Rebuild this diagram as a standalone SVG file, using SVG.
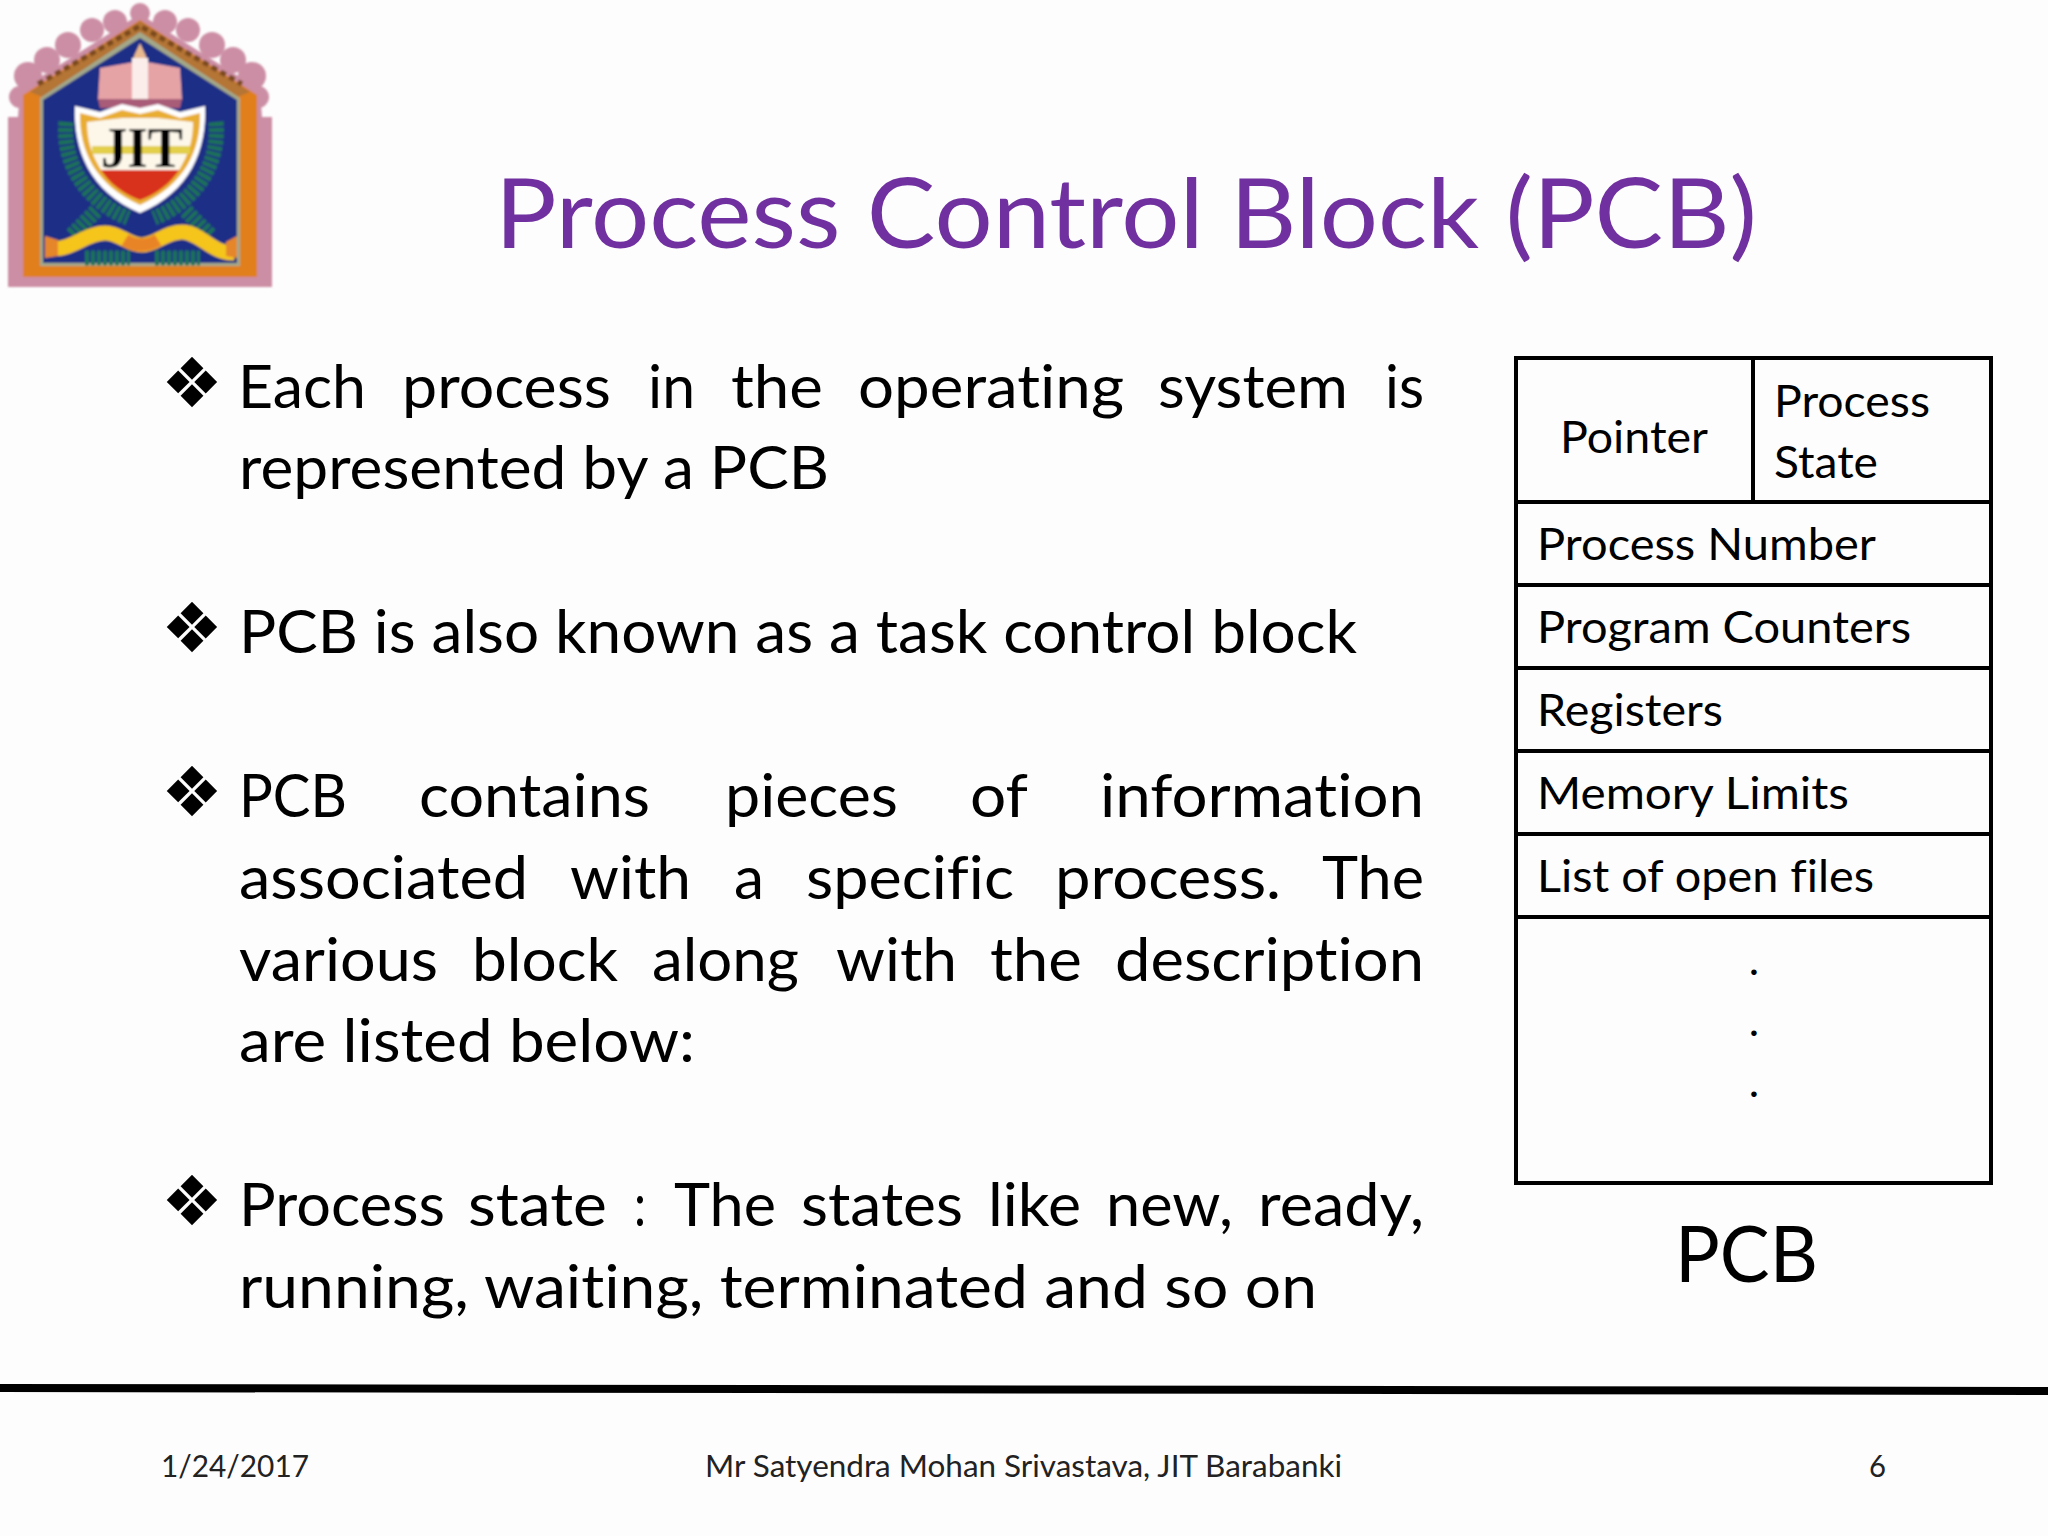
<svg xmlns="http://www.w3.org/2000/svg" width="2048" height="1536" viewBox="0 0 2048 1536">
<style>
text{font-family:"Lato","Carlito","Open Sans",sans-serif;fill:#000;font-variant-ligatures:none}
.b{font-size:60px}
.t{font-size:44px}
.f{font-size:31px;fill:#222}
.bu{font-family:"DejaVu Sans",sans-serif;font-size:69px;text-anchor:middle}
.cell{fill:none;stroke:#000;stroke-width:4}
</style>
<defs><filter id="soft" x="-5%" y="-5%" width="110%" height="110%"><feGaussianBlur stdDeviation="0.9"/></filter></defs>
<rect width="2048" height="1536" fill="#fdfdfd"/>
<g id="logo" filter="url(#soft)">
<g fill="#cc8ea4">
<circle cx="140" cy="13" r="10"/><circle cx="115" cy="22" r="12"/><circle cx="92" cy="30" r="12"/><circle cx="68" cy="45" r="13"/><circle cx="47" cy="60" r="13"/><circle cx="28" cy="76" r="14"/><circle cx="20" cy="97" r="11"/>
<circle cx="165" cy="22" r="12"/><circle cx="188" cy="30" r="12"/><circle cx="212" cy="45" r="13"/><circle cx="233" cy="60" r="13"/><circle cx="252" cy="76" r="14"/><circle cx="258" cy="97" r="11"/>
<path d="M8 287V117H18L20 90 140 14 260 90 262 117H272V287Z"/>
</g>
<path d="M23 277V95L140 20 257 95V277Z" fill="#e07f1f"/>
<path d="M30 92L140 21 250 92 237 97 140 36 43 97Z" fill="#b47436"/>
<path d="M38 84L140 26 242 84" fill="none" stroke="#7b4a1c" stroke-width="5" stroke-dasharray="6 4"/>
<path d="M40 266V98L140 32 240 98V266Z" fill="#a3a98a"/>
<path d="M43 263V100L140 38 237 100V263Z" fill="#1b2f86"/>
<path d="M140 43L146 56V66H134V56Z" fill="#e8b98f"/>
<path d="M100 68L134 62V100H98Z M180 68L147 62V100H182Z" fill="#e6a3a6"/>
<path d="M132 58H148V100H132Z" fill="#fbeeea"/>
<path d="M98 99H182L180 108H100Z" fill="#a85b78"/>
<g fill="none" stroke="#1d7257" stroke-width="15" stroke-dasharray="4 2">
<path d="M66 122C62 165 88 202 128 218"/>
<path d="M216 122C220 165 194 202 154 218"/>
<path d="M72 235L97 210"/>
<path d="M210 235L185 210"/>
<path d="M85 258H130M155 258H200"/>
</g>
<path d="M75 106L100 112 122 104 140 108 158 104 180 112 205 106C207 150 190 192 140 213 90 192 73 150 75 106Z" fill="#fff"/>
<path d="M80 113L100 118 122 110 140 114 158 110 180 118 200 113C201 150 185 185 140 205 95 185 79 150 80 113Z" fill="#e8ad32"/>
<path d="M87 122L122 118H158L193 122C193 145 186 158 179 170H101C94 158 87 145 87 122Z" fill="#fdf7ea"/>
<path d="M101 170H179C171 183 155 195 140 200 125 195 109 183 101 170Z" fill="#d9301f"/>
<path d="M92 150H190" stroke="#e3cf4a" stroke-width="8"/>
<text x="142" y="167" font-size="58" font-weight="700" text-anchor="middle" textLength="82" lengthAdjust="spacingAndGlyphs" style="font-family:'Liberation Serif',serif" fill="#111">JIT</text>
<path d="M50 248C70 252 85 233 105 233 120 233 128 245 142 245 156 245 165 232 182 232 200 232 212 254 234 253" fill="none" stroke="#f5c51d" stroke-width="15"/>
<path d="M125 240Q141 250 158 240" fill="none" stroke="#e98426" stroke-width="13"/>
<path d="M45 236L58 240V256L45 258ZM237 236L226 242V256L237 258Z" fill="#e6862a"/>
</g>
<text id="title" x="495" y="248" font-size="96" textLength="1262" lengthAdjust="spacingAndGlyphs" style="fill:#7030a0">Process Control Block (PCB)</text>
<g id="body">
<text class="bu" x="192" y="407">❖</text>
<text class="b" x="238" y="408" textLength="128" lengthAdjust="spacingAndGlyphs">Each</text>
<text class="b" x="402" y="408" textLength="209" lengthAdjust="spacingAndGlyphs">process</text>
<text class="b" x="648" y="408" textLength="47" lengthAdjust="spacingAndGlyphs">in</text>
<text class="b" x="731" y="408" textLength="92" lengthAdjust="spacingAndGlyphs">the</text>
<text class="b" x="858" y="408" textLength="266" lengthAdjust="spacingAndGlyphs">operating</text>
<text class="b" x="1158" y="408" textLength="190" lengthAdjust="spacingAndGlyphs">system</text>
<text class="b" x="1385" y="408" textLength="39" lengthAdjust="spacingAndGlyphs">is</text>
<text class="b" x="239" y="489" textLength="590" lengthAdjust="spacingAndGlyphs">represented by a PCB</text>
<text class="bu" x="192" y="652">❖</text>
<text class="b" x="239" y="653" textLength="1118" lengthAdjust="spacingAndGlyphs">PCB is also known as a task control block</text>
<text class="bu" x="192" y="816">❖</text>
<text class="b" x="239" y="817" textLength="108" lengthAdjust="spacingAndGlyphs">PCB</text>
<text class="b" x="419" y="817" textLength="231" lengthAdjust="spacingAndGlyphs">contains</text>
<text class="b" x="725" y="817" textLength="173" lengthAdjust="spacingAndGlyphs">pieces</text>
<text class="b" x="970" y="817" textLength="58" lengthAdjust="spacingAndGlyphs">of</text>
<text class="b" x="1100" y="817" textLength="324" lengthAdjust="spacingAndGlyphs">information</text>
<text class="b" x="239" y="899" textLength="289" lengthAdjust="spacingAndGlyphs">associated</text>
<text class="b" x="570" y="899" textLength="121" lengthAdjust="spacingAndGlyphs">with</text>
<text class="b" x="734" y="899" textLength="30" lengthAdjust="spacingAndGlyphs">a</text>
<text class="b" x="806" y="899" textLength="208" lengthAdjust="spacingAndGlyphs">specific</text>
<text class="b" x="1055" y="899" textLength="226" lengthAdjust="spacingAndGlyphs">process.</text>
<text class="b" x="1322" y="899" textLength="102" lengthAdjust="spacingAndGlyphs">The</text>
<text class="b" x="239" y="981" textLength="199" lengthAdjust="spacingAndGlyphs">various</text>
<text class="b" x="472" y="981" textLength="146" lengthAdjust="spacingAndGlyphs">block</text>
<text class="b" x="652" y="981" textLength="147" lengthAdjust="spacingAndGlyphs">along</text>
<text class="b" x="836" y="981" textLength="121" lengthAdjust="spacingAndGlyphs">with</text>
<text class="b" x="990" y="981" textLength="92" lengthAdjust="spacingAndGlyphs">the</text>
<text class="b" x="1115" y="981" textLength="309" lengthAdjust="spacingAndGlyphs">description</text>
<text class="b" x="239" y="1062" textLength="456" lengthAdjust="spacingAndGlyphs">are listed below:</text>
<text class="bu" x="192" y="1225">❖</text>
<text class="b" x="239" y="1226" textLength="206" lengthAdjust="spacingAndGlyphs">Process</text>
<text class="b" x="468" y="1226" textLength="139" lengthAdjust="spacingAndGlyphs">state</text>
<text class="b" x="634" y="1226" textLength="12" lengthAdjust="spacingAndGlyphs">:</text>
<text class="b" x="674" y="1226" textLength="102" lengthAdjust="spacingAndGlyphs">The</text>
<text class="b" x="801" y="1226" textLength="162" lengthAdjust="spacingAndGlyphs">states</text>
<text class="b" x="988" y="1226" textLength="93" lengthAdjust="spacingAndGlyphs">like</text>
<text class="b" x="1106" y="1226" textLength="127" lengthAdjust="spacingAndGlyphs">new,</text>
<text class="b" x="1258" y="1226" textLength="166" lengthAdjust="spacingAndGlyphs">ready,</text>
<text class="b" x="239" y="1308" textLength="1078" lengthAdjust="spacingAndGlyphs">running, waiting, terminated and so on</text>
</g>
<g id="pcb-table">
<rect class="cell" x="1516" y="358" width="475" height="825"/>
<path class="cell" d="M1753 358V502M1516 502H1991M1516 585H1991M1516 668H1991M1516 751H1991M1516 834H1991M1516 917H1991"/>
<text class="t" x="1560" y="453" textLength="148" lengthAdjust="spacingAndGlyphs">Pointer</text>
<text class="t" x="1774" y="417" textLength="156" lengthAdjust="spacingAndGlyphs">Process</text>
<text class="t" x="1774" y="478" textLength="104" lengthAdjust="spacingAndGlyphs">State</text>
<text class="t" x="1537" y="560" textLength="339" lengthAdjust="spacingAndGlyphs">Process Number</text>
<text class="t" x="1537" y="643" textLength="374" lengthAdjust="spacingAndGlyphs">Program Counters</text>
<text class="t" x="1537" y="726" textLength="186" lengthAdjust="spacingAndGlyphs">Registers</text>
<text class="t" x="1537" y="809" textLength="312" lengthAdjust="spacingAndGlyphs">Memory Limits</text>
<text class="t" x="1537" y="892" textLength="337" lengthAdjust="spacingAndGlyphs">List of open files</text>
<text class="t" x="1754" y="975" text-anchor="middle">.</text>
<text class="t" x="1754" y="1036" text-anchor="middle">.</text>
<text class="t" x="1754" y="1097" text-anchor="middle">.</text>
<text x="1675" y="1282" font-size="78" textLength="143" lengthAdjust="spacingAndGlyphs">PCB</text>
</g>
<g id="footer">
<path d="M0 1388L2048 1391" stroke="#000" stroke-width="8"/>
<text class="f" x="161" y="1477" textLength="148" lengthAdjust="spacingAndGlyphs">1/24/2017</text>
<text class="f" x="705" y="1477" textLength="637" lengthAdjust="spacingAndGlyphs">Mr Satyendra Mohan Srivastava, JIT Barabanki</text>
<text class="f" x="1869" y="1477" textLength="17" lengthAdjust="spacingAndGlyphs">6</text>
</g>
</svg>
